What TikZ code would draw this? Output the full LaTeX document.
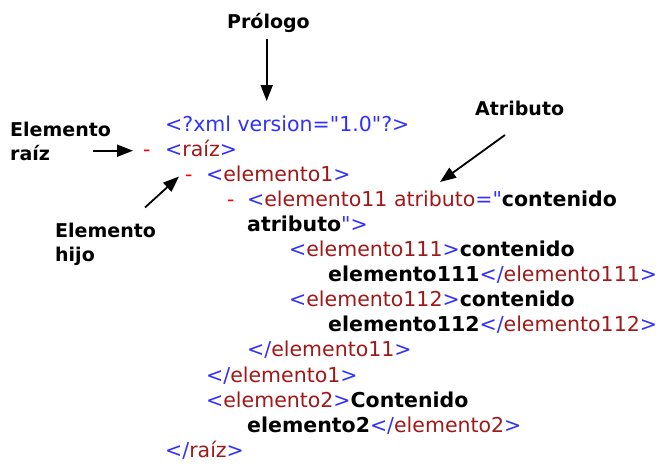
\documentclass[tikz,border=0pt]{standalone}
\usepackage{fontspec}
\setmainfont{DejaVu Sans}[Ligatures=TeXOff]
\usetikzlibrary{arrows.meta}
\definecolor{xblue}{RGB}{48,48,255}
\definecolor{xred}{RGB}{160,24,24}
\definecolor{xdash}{RGB}{255,0,0}
\newcommand\tb[1]{\textcolor{xblue}{#1}}
\newcommand\trd[1]{\textcolor{xred}{#1}}
\newcommand\tk[1]{\textbf{#1}}
\begin{document}
\begin{tikzpicture}[x=1pt,y=-1pt,
  code/.style={anchor=base west, inner sep=0pt, font=\fontsize{20.5}{24}\selectfont},
  lbl/.style={anchor=base west, inner sep=0pt, font=\fontsize{19}{24}\selectfont\bfseries},
  dsh/.style={anchor=base west, inner sep=0pt, text=xdash, font=\fontsize{20.5}{24}\selectfont},
  arr/.style={line width=1.8pt, -{Triangle[length=16pt,width=12pt]}}]
\useasboundingbox (0,0) rectangle (660,463);
% code lines
\node[code] (l0) at (165,131.0) {\tb{<?xml version="1.0"?>}};
\node[dsh] (d1) at (143,156.1) {-};
\node[code] (l1) at (165,156.1) {\tb{<}\trd{raíz}\tb{>}};
\node[dsh] (d2) at (185,181.2) {-};
\node[code] (l2) at (206,181.2) {\tb{<}\trd{elemento1}\tb{>}};
\node[dsh] (d3) at (227,206.3) {-};
\node[code] (l3) at (247,206.3) {\tb{<}\trd{elemento11 atributo}\tb{="}\tk{contenido}};
\node[code] (l4) at (247,231.4) {\tk{atributo}\tb{">}};
\node[code] (l5) at (289,256.5) {\tb{<}\trd{elemento111}\tb{>}\tk{contenido}};
\node[code] (l6) at (328,281.6) {\tk{elemento111}\tb{</}\trd{elemento111}\tb{>}};
\node[code] (l7) at (289,306.7) {\tb{<}\trd{elemento112}\tb{>}\tk{contenido}};
\node[code] (l8) at (328,331.8) {\tk{elemento112}\tb{</}\trd{elemento112}\tb{>}};
\node[code] (l9) at (247,356.9) {\tb{</}\trd{elemento11}\tb{>}};
\node[code] (l10) at (206,382.0) {\tb{</}\trd{elemento1}\tb{>}};
\node[code] (l11) at (206,407.1) {\tb{<}\trd{elemento2}\tb{>}\tk{Contenido}};
\node[code] (l12) at (247,432.2) {\tk{elemento2}\tb{</}\trd{elemento2}\tb{>}};
\node[code] (l13) at (165,457.3) {\tb{</}\trd{raíz}\tb{>}};
% labels
\node[lbl] (prologo) at (227,28) {Prólogo};
\node[lbl] (raiz1) at (10,136) {Elemento};
\node[lbl] (raiz2) at (10,160) {raíz};
\node[lbl] (hijo1) at (55,237) {Elemento};
\node[lbl] (hijo2) at (55,261) {hijo};
\node[lbl] (atrib) at (475,115) {Atributo};
% arrow end points
\coordinate (pA) at (266.7,39);
\coordinate (pB) at (266.7,101);
\coordinate (rA) at (93,150.7);
\coordinate (rB) at (133,150.7);
\coordinate (hA) at (145,207.5);
\coordinate (hB) at (179,176.5);
\coordinate (aA) at (505,135);
\coordinate (aB) at (440,182);
\draw[arr] (pA) -- (pB);
\draw[arr] (rA) -- (rB);
\draw[arr] (hA) -- (hB);
\draw[arr] (aA) -- (aB);
\end{tikzpicture}
\end{document}
